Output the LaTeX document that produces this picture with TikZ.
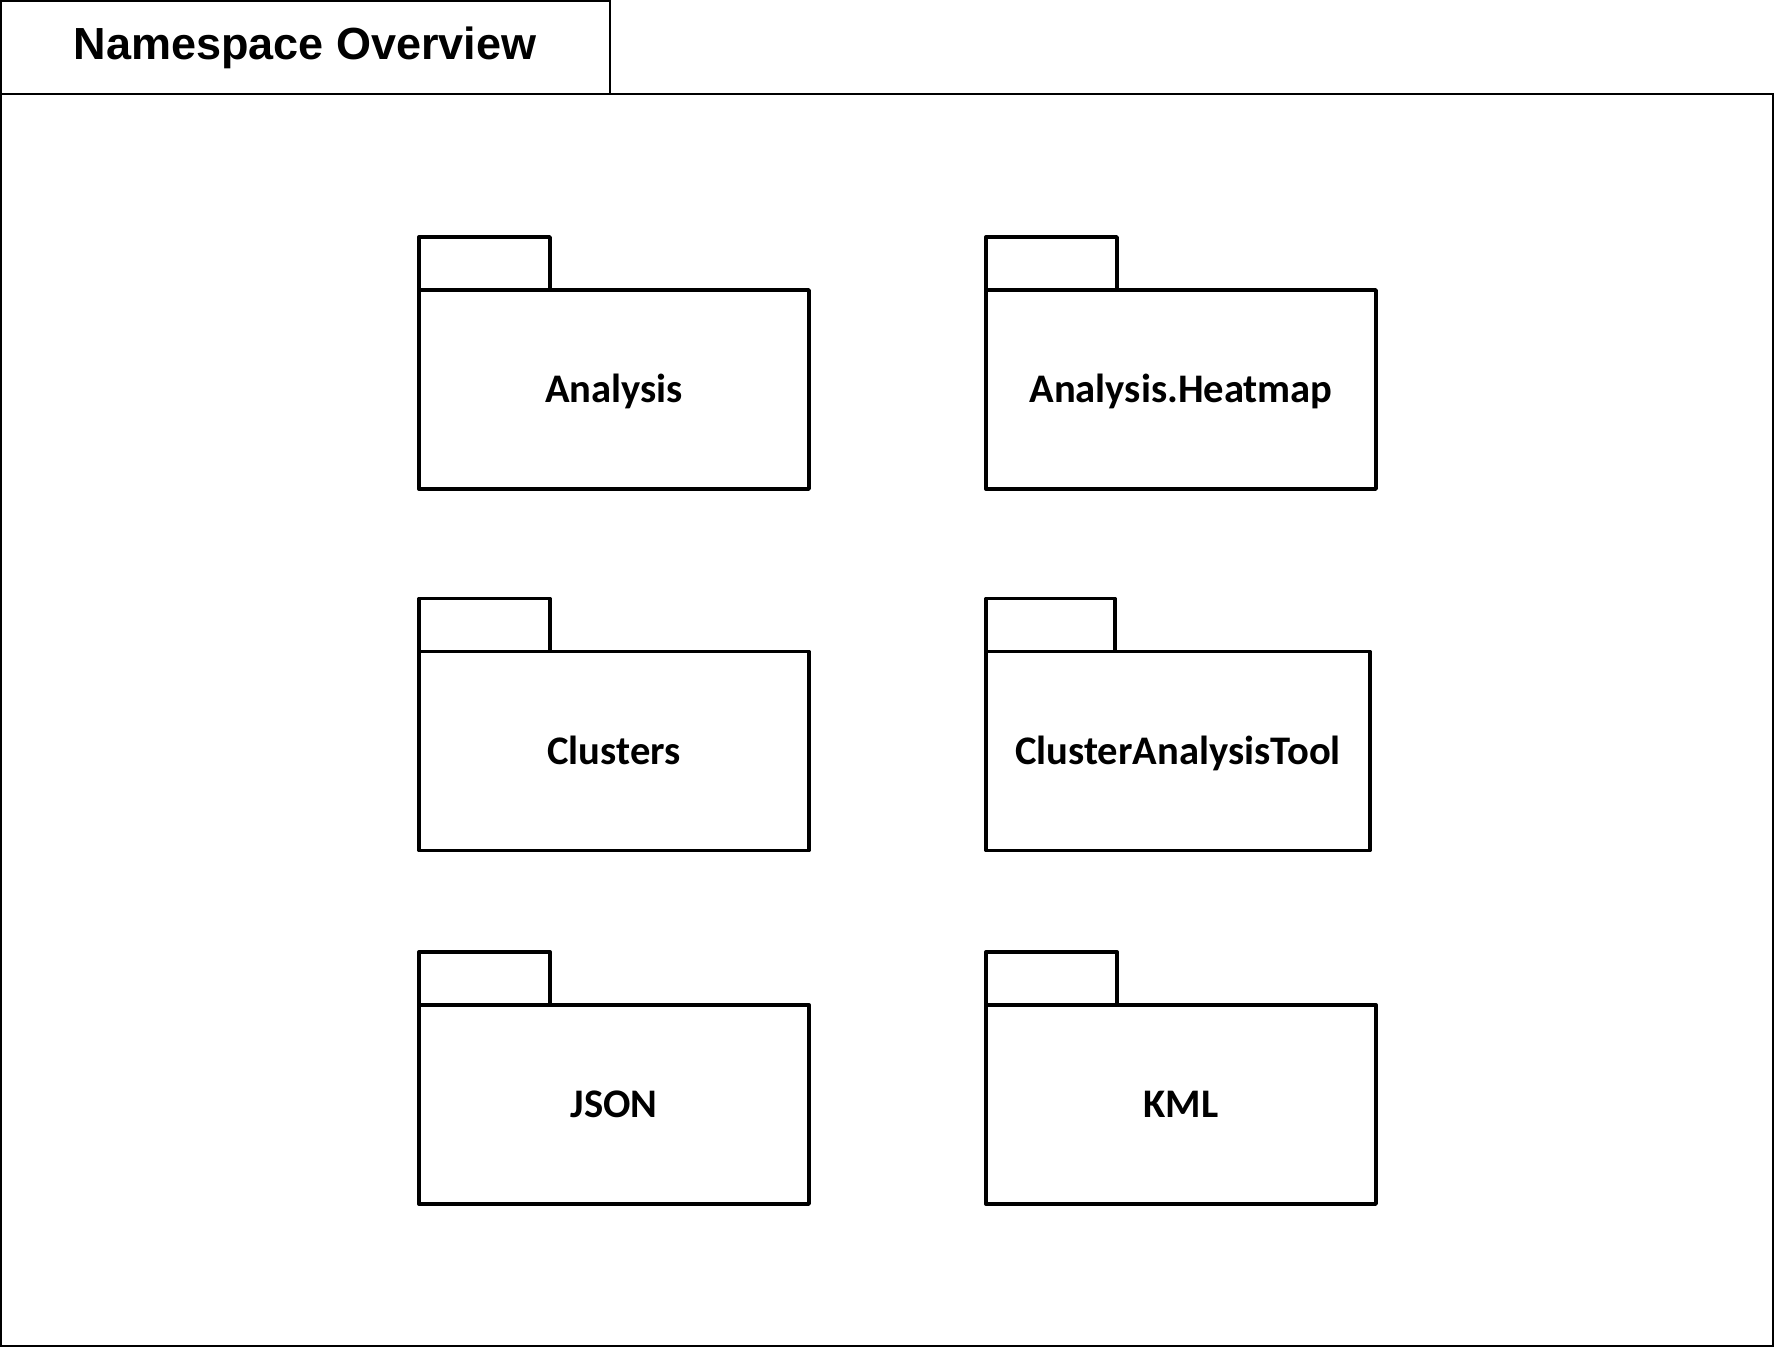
\documentclass[tikz,border=0pt]{standalone}
\usepackage{fontspec}
\setmainfont{Carlito}
\newfontfamily\titlefont{Liberation Sans}
\usetikzlibrary{positioning}
\begin{document}
\begin{tikzpicture}[x=0.5pt,y=-0.5pt,
  frameline/.style={draw=black,line width=0.7pt,inner sep=0pt,outer sep=0pt,anchor=north west},
  pkgbody/.style={draw=black,line width=1.7pt,line join=round,inner sep=0pt,outer sep=0pt,
    minimum width=195pt,minimum height=99.5pt,
    font=\bfseries\fontsize{20.3pt}{20.3pt}\selectfont,
    text height=13.1pt,text depth=0pt},
  pkgtab/.style={draw=black,line width=1.7pt,line join=round,inner sep=0pt,outer sep=0pt,
    minimum width=65.5pt,minimum height=26.5pt,anchor=south west},
  titletext/.style={font=\titlefont\bfseries\fontsize{22.5pt}{22.5pt}\selectfont,anchor=base,inner sep=0pt}]
\useasboundingbox (0,0) rectangle (1775,1347);
\fill[white] (0,0) rectangle (1775,1347);
% frames
\node[frameline,minimum width=886pt,minimum height=626pt] (frame) at (1,94) {};
\node[frameline,minimum width=304.5pt,minimum height=46.5pt] (titlebox) at (1,1) {};
\node[titletext] (title) at (305,60) {Namespace Overview};
% packages
\node[pkgbody] (analysis) at (614,389.5) {Analysis};
\node[pkgtab] (analysistab) at (analysis.north west) {};
\node[pkgbody] (heatmap) at (1181,389.5) {Analysis.Heatmap};
\node[pkgtab] (heatmaptab) at (heatmap.north west) {};
\node[pkgbody] (clusters) at (614,751) {Clusters};
\node[pkgtab] (clusterstab) at (clusters.north west) {};
\node[pkgbody,minimum width=192pt] (cat) at (1178,751) {ClusterAnalysisTool};
\node[pkgtab,minimum width=64.5pt] (cattab) at (cat.north west) {};
\node[pkgbody] (json) at (614,1104.5) {JSON};
\node[pkgtab] (jsontab) at (json.north west) {};
\node[pkgbody] (kml) at (1181,1104.5) {KML};
\node[pkgtab] (kmltab) at (kml.north west) {};
\end{tikzpicture}
\end{document}
